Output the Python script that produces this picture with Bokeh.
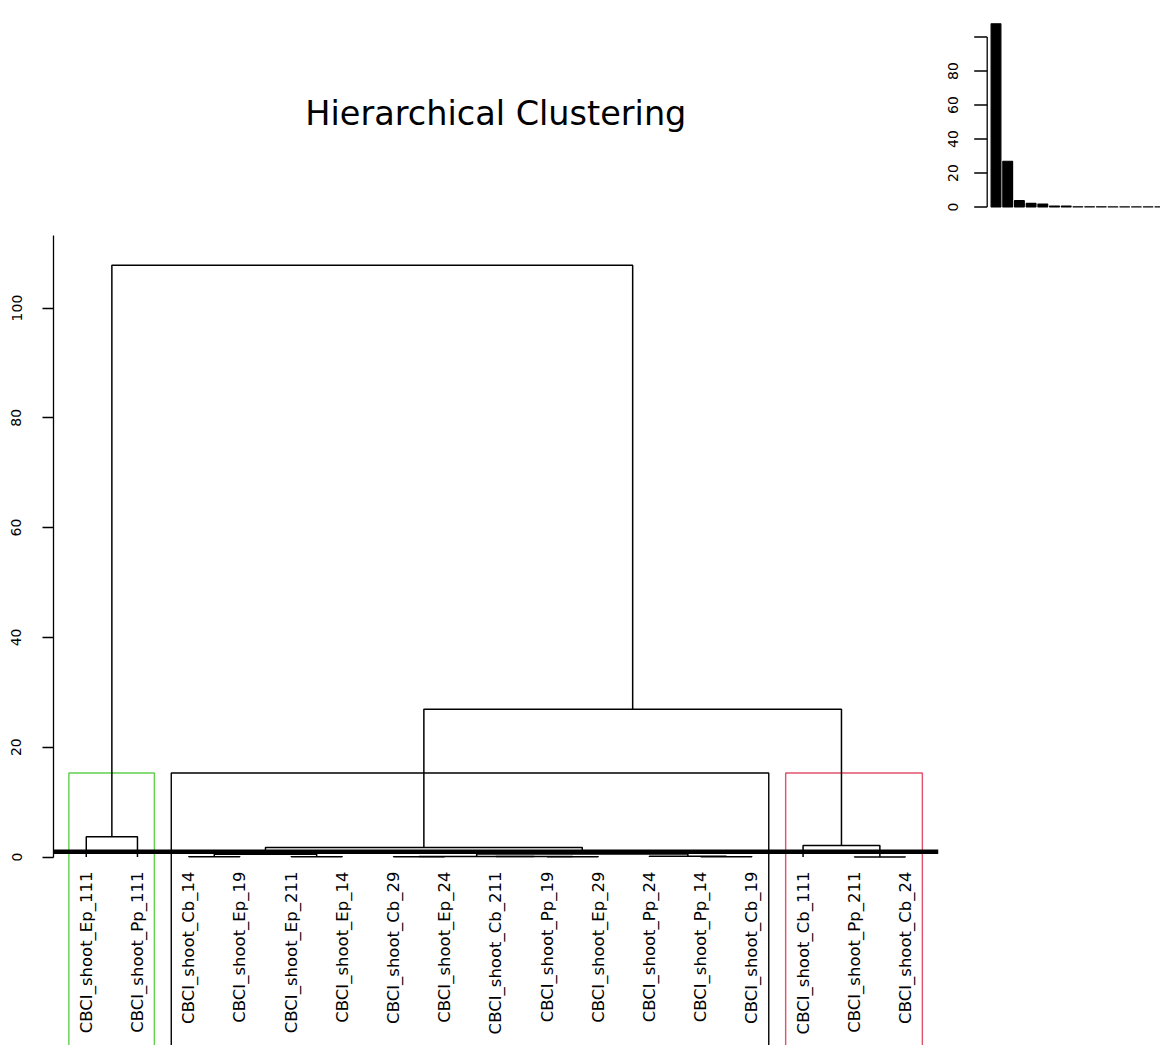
import numpy as np
from bokeh.plotting import figure
from bokeh.models import Range1d, FixedTicker
from bokeh.core.properties import value
from bokeh.embed import file_html
from bokeh.resources import INLINE

# ---------------- data ----------------
title_text = "Hierarchical Clustering"
leaf_labels = [
    "CBCI_shoot_Ep_111", "CBCI_shoot_Pp_111", "CBCI_shoot_Cb_14", "CBCI_shoot_Ep_19",
    "CBCI_shoot_Ep_211", "CBCI_shoot_Ep_14", "CBCI_shoot_Cb_29", "CBCI_shoot_Ep_24",
    "CBCI_shoot_Cb_211", "CBCI_shoot_Pp_19", "CBCI_shoot_Ep_29", "CBCI_shoot_Pp_24",
    "CBCI_shoot_Pp_14", "CBCI_shoot_Cb_19", "CBCI_shoot_Cb_111", "CBCI_shoot_Pp_211",
    "CBCI_shoot_Cb_24",
]
# hclust-style merge table (negative = leaf position in display order, positive = earlier merge row)
merge_left = [-16, -3, -5, -7, -10, -9, 4, -13, -12, 7, 2, 11, -15, -1, 12, 14]
merge_right = [-17, -4, -6, -8, -11, 5, 6, -14, 8, 9, 3, 10, 1, -2, 13, 15]
merge_height = [0.02, 0.03, 0.04, 0.05, 0.06, 0.08, 0.10, 0.04, 0.12, 0.55, 0.50,
                1.73, 2.1, 3.7, 26.9, 107.8]
cluster_sizes = [2, 12, 3]
cluster_colors = ["#61D04F", "#000000", "#DF536B"]
cut_line_height = 0.95
main_ticks = [0, 20, 40, 60, 80, 100]
inset_ticks = [0, 20, 40, 60, 80, 100]
inset_tick_labels = ["0", "20", "40", "60", "80", ""]

# ---------------- geometry (pixels) ----------------
W, H = 1160, 1045
BORDER_LEFT = 53
FRAME_W = W - BORDER_LEFT
FRAME_H = H
PX_X = 51.2          # px per leaf
PX_Y = 5.49          # px per height unit
Y0_FROM_TOP = 856.5  # frame-pixel row of height 0
X_START = 0.36
n_leaf = len(leaf_labels)
x_end = X_START + FRAME_W / PX_X
y_top = Y0_FROM_TOP / PX_Y
y_bot = y_top - FRAME_H / PX_Y

# inset scales
IPX_X = 9.75
IPX_Y = 1.7
I_BAR0_FROM_LEFT = 942.5     # frame px of first bar centre
I_Y0_FROM_TOP = 206.5
ix_start = 0.7 - I_BAR0_FROM_LEFT / IPX_X
ix_end = ix_start + FRAME_W / IPX_X
iy_top = I_Y0_FROM_TOP / IPX_Y
iy_bot = iy_top - FRAME_H / IPX_Y

p = figure(width=W, height=H, output_backend="svg", toolbar_location=None,
           x_range=Range1d(X_START, x_end), y_range=Range1d(y_bot, y_top),
           x_axis_location=None, y_axis_location="left",
           min_border_left=BORDER_LEFT, min_border_right=0,
           min_border_top=0, min_border_bottom=0)
p.extra_x_ranges = {"ix": Range1d(ix_start, ix_end)}
p.extra_y_ranges = {"iy": Range1d(iy_bot, iy_top)}
p.xgrid.visible = False
p.ygrid.visible = False
p.outline_line_color = None
p.background_fill_color = "white"
p.border_fill_color = "white"

ax = p.yaxis[0]
ax.ticker = FixedTicker(ticks=main_ticks)
ax.bounds = (0, 113.2)
ax.major_tick_out = 11
ax.major_tick_in = 0
ax.minor_tick_out = 0
ax.minor_tick_in = 0
ax.axis_line_width = 1.3
ax.major_tick_line_width = 1.3
ax.major_label_orientation = "vertical"
ax.major_label_standoff = 21
ax.major_label_text_font = "DejaVu Sans"
ax.major_label_text_font_size = "14px"
ax.major_label_text_color = "black"

# ---------------- dendrogram ----------------
node_x, node_h = {}, {}
xs, ys = [], []


def pos(ref):
    if ref < 0:
        return float(-ref), 0.0
    return node_x[ref], node_h[ref]


for i, (a, b, h) in enumerate(zip(merge_left, merge_right, merge_height), start=1):
    xa, ha = pos(a)
    xb, hb = pos(b)
    xs.append([xa, xa, xb, xb])
    ys.append([ha, h, h, hb])
    node_x[i] = (xa + xb) / 2
    node_h[i] = h

# cluster rectangles (rect.hclust style)
sorted_h = sorted(merge_height, reverse=True)
k = len(cluster_sizes)
rect_top = (sorted_h[k - 2] + sorted_h[k - 1]) / 2
edges = np.cumsum([0] + cluster_sizes)
r_left = [edges[n] + 0.66 for n in range(k)]
r_right = [edges[n + 1] + 0.33 for n in range(k)]
p.quad(left=r_left, right=r_right, bottom=[y_bot - 10] * k, top=[rect_top] * k,
       fill_color=None, line_color=cluster_colors, line_width=1.4)

p.multi_line(xs=xs, ys=ys, line_color="black", line_width=1.5)

# thick horizontal line across plot region
x_region_end = n_leaf + (n_leaf - 1) * 0.04
p.segment(x0=[X_START], x1=[x_region_end], y0=[cut_line_height], y1=[cut_line_height],
          line_color="black", line_width=4.5)

# leaf labels
label_y = -14.5 / PX_Y
p.text(x=list(range(1, n_leaf + 1)), y=[label_y] * n_leaf, text=leaf_labels,
       angle=np.pi / 2, text_align="right", text_baseline="middle",
       text_font=value("DejaVu Sans"), text_font_size=value("16.5px"), text_color="black")

# title
title_y = (856.5 - 113) / PX_Y
p.text(x=[(X_START + x_region_end) / 2], y=[title_y], text=[title_text],
       text_align="center", text_baseline="alphabetic",
       text_font=value("DejaVu Sans"), text_font_size=value("33.5px"), text_color="black")

# ---------------- inset barplot of heights ----------------
bar_x = [0.7 + 1.2 * j for j in range(len(sorted_h))]
p.vbar(x=bar_x, width=1.0, bottom=0, top=sorted_h, fill_color="black", line_color="black",
       line_width=1.2, x_range_name="ix", y_range_name="iy")
i_axis_x = 0.7 - 8.8 / IPX_X
i_tick_x = i_axis_x - 13 / IPX_X
i_label_x = 0.7 - 43 / IPX_X
p.segment(x0=[i_axis_x], x1=[i_axis_x], y0=[inset_ticks[0]], y1=[inset_ticks[-1]],
          line_color="black", line_width=1.3, x_range_name="ix", y_range_name="iy")
p.segment(x0=[i_tick_x] * len(inset_ticks), x1=[i_axis_x] * len(inset_ticks),
          y0=inset_ticks, y1=inset_ticks, line_color="black", line_width=1.3,
          x_range_name="ix", y_range_name="iy")
p.text(x=[i_label_x] * len(inset_ticks), y=inset_ticks, text=inset_tick_labels,
       angle=np.pi / 2, text_align="center", text_baseline="middle",
       text_font=value("DejaVu Sans"), text_font_size=value("14px"), text_color="black",
       x_range_name="ix", y_range_name="iy")

open("out.html", "w").write(file_html(p, INLINE))
